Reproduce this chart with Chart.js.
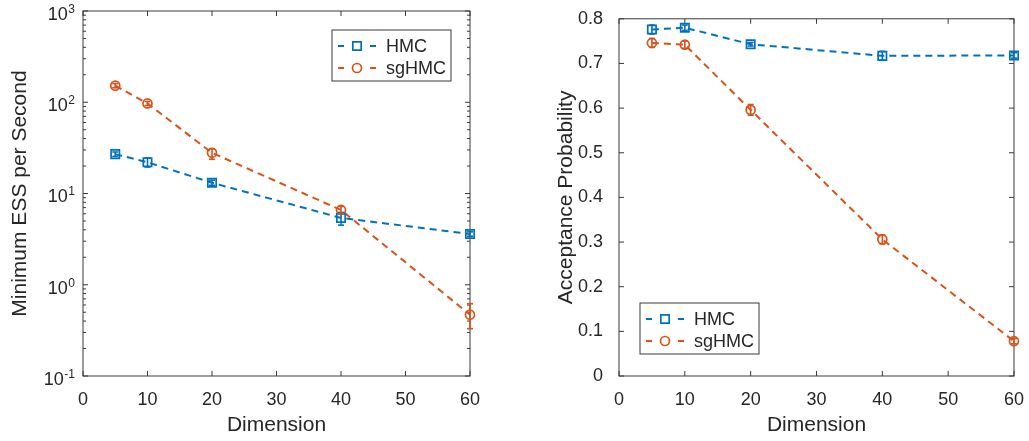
<!DOCTYPE html>
<html>
<head>
<meta charset="utf-8">
<script src="https://cdn.jsdelivr.net/npm/chart.js@4.4.1/dist/chart.umd.min.js"></script>
<style>
  html, body { margin: 0; padding: 0; background: #fff; }
  #wrap { position: relative; width: 1029px; height: 441px; background: #fff; }
  #essBox { position: absolute; left: 0; top: 0; width: 500px; height: 441px; }
  #accBox { position: absolute; left: 530px; top: 0; width: 499px; height: 441px; }
</style>
</head>
<body>
<div id="wrap">
  <div id="essBox"><canvas id="essChart" width="500" height="441"></canvas></div>
  <div id="accBox"><canvas id="accChart" width="499" height="441"></canvas></div>
</div>
<script>
const dimensions = [5, 10, 20, 40, 60];
const xTicks = [0, 10, 20, 30, 40, 50, 60];

// Minimum ESS per second (mean and error bar ends)
const hmcEss = [27, 22, 13.1, 5.4, 3.6];
const hmcEssLow = [25.5, 19.5, 12.3, 4.5, 3.4];
const hmcEssHigh = [28.5, 24.5, 14.0, 6.2, 3.8];
const sgEss = [152, 97, 27.9, 6.6, 0.47];
const sgEssLow = [144, 92, 23.7, 6.0, 0.33];
const sgEssHigh = [160, 102, 31, 7.2, 0.62];
const essExponents = [-1, 0, 1, 2, 3];

// Acceptance probability (mean and error bar ends)
const hmcAcc = [0.776, 0.780, 0.743, 0.717, 0.718];
const hmcAccLow = [0.766, 0.774, 0.739, 0.707, 0.712];
const hmcAccHigh = [0.786, 0.786, 0.747, 0.727, 0.724];
const sgAcc = [0.746, 0.742, 0.596, 0.306, 0.078];
const sgAccLow = [0.736, 0.734, 0.584, 0.296, 0.072];
const sgAccHigh = [0.756, 0.750, 0.608, 0.316, 0.084];
const accTicks = [0, 0.1, 0.2, 0.3, 0.4, 0.5, 0.6, 0.7, 0.8];

const BLUE = '#0072BD';
const ORANGE = '#D95319';
const TEXT = '#262626';
const FRAME = '#3a3a3a';
const FONT = "'Liberation Sans', Arial, Helvetica, sans-serif";
const tickFont = { family: FONT, size: 18 };
const titleFont = { family: FONT, size: 21 };

const toPoints = ys => dimensions.map((x, i) => ({ x: x, y: ys[i] }));

function series(label, ys, lo, hi, color, style, radius) {
    return {
        label: label,
        data: toPoints(ys),
        errLow: lo,
        errHigh: hi,
        borderColor: color,
        backgroundColor: 'rgba(0,0,0,0)',
        borderWidth: 2,
        borderDash: [7, 5],
        pointStyle: style,
        pointRadius: radius,
        pointBorderWidth: 1.7,
        pointBorderColor: color,
        pointBackgroundColor: 'rgba(0,0,0,0)',
        tension: 0,
        fill: false,
        clip: false
    };
}

function line(ctx, x1, y1, x2, y2) {
    ctx.beginPath();
    ctx.moveTo(x1, y1);
    ctx.lineTo(x2, y2);
    ctx.stroke();
}

// axes box with inward tick marks on all four sides
const framePlugin = {
    id: 'frame',
    beforeDatasetsDraw(chart, args, opts) {
        const { ctx, chartArea: a } = chart;
        const xs = chart.scales.x, ys = chart.scales.y;
        ctx.save();
        ctx.strokeStyle = FRAME;
        ctx.lineWidth = 1;
        ctx.strokeRect(a.left, a.top, a.width, a.height);
        xs.ticks.forEach(t => {
            const px = xs.getPixelForValue(t.value);
            line(ctx, px, a.bottom, px, a.bottom - 5);
            line(ctx, px, a.top, px, a.top + 5);
        });
        const yTick = (v, len) => {
            const py = ys.getPixelForValue(v);
            line(ctx, a.left, py, a.left + len, py);
            line(ctx, a.right, py, a.right - len, py);
        };
        if (opts.log) {
            essExponents.forEach(e => {
                yTick(Math.pow(10, e), 5);
                if (e < essExponents[essExponents.length - 1]) {
                    for (let m = 2; m <= 9; m++) yTick(m * Math.pow(10, e), 3);
                }
            });
        } else {
            ys.ticks.forEach(t => yTick(t.value, 5));
        }
        ctx.restore();
    },
    afterDraw(chart, args, opts) {
        if (!opts.log) return;
        // decade labels as 10 with a raised exponent
        const { ctx, chartArea: a } = chart;
        const ys = chart.scales.y;
        ctx.save();
        ctx.fillStyle = TEXT;
        ctx.textAlign = 'right';
        ctx.textBaseline = 'middle';
        essExponents.forEach(e => {
            const py = ys.getPixelForValue(Math.pow(10, e));
            const right = a.left - 8;
            ctx.font = '12px ' + FONT;
            const exp = String(e);
            const w = ctx.measureText(exp).width;
            ctx.fillText(exp, right, py - 1.5);
            ctx.font = '18px ' + FONT;
            ctx.fillText('10', right - w - 0.5, py + 4);
        });
        ctx.restore();
    }
};

// vertical error bars with caps
const errorBarPlugin = {
    id: 'errorBars',
    afterDatasetsDraw(chart) {
        const { ctx } = chart;
        const xs = chart.scales.x, ys = chart.scales.y;
        ctx.save();
        ctx.lineWidth = 1.6;
        chart.data.datasets.forEach(ds => {
            ctx.strokeStyle = ds.borderColor;
            ds.data.forEach((p, i) => {
                const px = xs.getPixelForValue(p.x);
                const yl = ys.getPixelForValue(ds.errLow[i]);
                const yh = ys.getPixelForValue(ds.errHigh[i]);
                line(ctx, px, yl, px, yh);
                line(ctx, px - 3, yl, px + 3, yl);
                line(ctx, px - 3, yh, px + 3, yh);
            });
        });
        ctx.restore();
    }
};

// boxed legend inside the axes
const insetLegendPlugin = {
    id: 'insetLegend',
    afterDraw(chart, args, opts) {
        const { ctx } = chart;
        const { x, y, w, h } = opts;
        ctx.save();
        ctx.fillStyle = '#fff';
        ctx.fillRect(x, y, w, h);
        ctx.strokeStyle = FRAME;
        ctx.lineWidth = 1;
        ctx.strokeRect(x, y, w, h);
        chart.data.datasets.forEach((ds, i) => {
            const ry = y + 16 + i * 22;
            ctx.strokeStyle = ds.borderColor;
            ctx.lineWidth = 2;
            ctx.setLineDash([6, 26]);
            line(ctx, x + 6, ry, x + 45, ry);
            ctx.setLineDash([]);
            ctx.lineWidth = ds.pointBorderWidth;
            ctx.fillStyle = 'rgba(0,0,0,0)';
            Chart.helpers.drawPoint(ctx, {
                pointStyle: ds.pointStyle,
                radius: ds.pointRadius,
                borderWidth: ds.pointBorderWidth,
                rotation: 0
            }, x + 25, ry);
            ctx.fillStyle = TEXT;
            ctx.font = '18px ' + FONT;
            ctx.textAlign = 'left';
            ctx.textBaseline = 'middle';
            ctx.fillText(ds.label, x + 54, ry + 1);
        });
        ctx.restore();
    }
};

function xScale() {
    return {
        type: 'linear',
        min: 0,
        max: 60,
        afterBuildTicks: s => { s.ticks = xTicks.map(v => ({ value: v })); },
        grid: { display: false },
        border: { display: false },
        ticks: { font: tickFont, color: TEXT, padding: 5, maxRotation: 0, autoSkip: false },
        title: { display: true, text: 'Dimension', font: titleFont, color: TEXT, padding: { top: 0, bottom: 3 } },
        afterFit: s => { s.height = 65; }
    };
}

const essChart = new Chart(document.getElementById('essChart'), {
    type: 'line',
    data: {
        datasets: [
            series('HMC', hmcEss, hmcEssLow, hmcEssHigh, BLUE, 'rect', 5.9),
            series('sgHMC', sgEss, sgEssLow, sgEssHigh, ORANGE, 'circle', 4.5)
        ]
    },
    options: {
        responsive: false,
        animation: false,
        events: [],
        layout: { padding: { left: 0, right: 30, top: 11, bottom: 0 } },
        scales: {
            x: xScale(),
            y: {
                type: 'logarithmic',
                min: 0.1,
                max: 1000,
                grid: { display: false },
                border: { display: false },
                ticks: { display: false },
                title: { display: true, text: 'Minimum ESS per Second', font: titleFont, color: TEXT, padding: { top: 8, bottom: 0 } },
                afterFit: s => { s.width = 83; }
            }
        },
        plugins: {
            legend: { display: false },
            tooltip: { enabled: false },
            frame: { log: true },
            insetLegend: { x: 332, y: 30, w: 119, h: 51 }
        }
    },
    plugins: [framePlugin, errorBarPlugin, insetLegendPlugin]
});

const accChart = new Chart(document.getElementById('accChart'), {
    type: 'line',
    data: {
        datasets: [
            series('HMC', hmcAcc, hmcAccLow, hmcAccHigh, BLUE, 'rect', 5.9),
            series('sgHMC', sgAcc, sgAccLow, sgAccHigh, ORANGE, 'circle', 4.5)
        ]
    },
    options: {
        responsive: false,
        animation: false,
        events: [],
        layout: { padding: { left: 0, right: 12, top: 11, bottom: 0 } },
        scales: {
            x: xScale(),
            y: {
                type: 'linear',
                min: 0,
                max: 0.8,
                afterBuildTicks: s => { s.ticks = accTicks.map(v => ({ value: v })); },
                grid: { display: false },
                border: { display: false },
                ticks: { font: tickFont, color: TEXT, padding: 8, callback: v => String(+v.toFixed(1)) },
                title: { display: true, text: 'Acceptance Probability', font: titleFont, color: TEXT, padding: { top: 24, bottom: 0 } },
                afterFit: s => { s.width = 89; }
            }
        },
        plugins: {
            legend: { display: false },
            tooltip: { enabled: false },
            frame: { log: false },
            insetLegend: { x: 110, y: 303, w: 119, h: 51 }
        }
    },
    plugins: [framePlugin, errorBarPlugin, insetLegendPlugin]
});
</script>
</body>
</html>
